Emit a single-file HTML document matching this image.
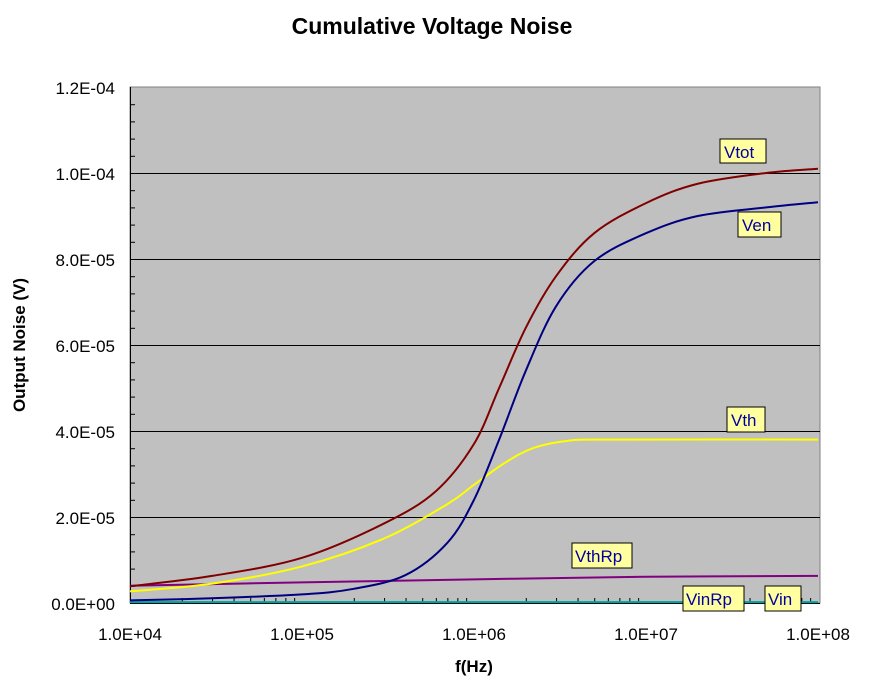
<!DOCTYPE html>
<html><head><style>
body{margin:0;background:#fff}
svg{display:block;font-family:"Liberation Sans",Arial,sans-serif}
</style></head><body>
<svg id="s" width="871" height="683" xmlns="http://www.w3.org/2000/svg">
<text x="432" y="34" text-anchor="middle" font-size="23" font-weight="bold">Cumulative Voltage Noise</text>
<rect x="130" y="87" width="690" height="516" fill="#c0c0c0" stroke="#808080" stroke-width="1"/>
<g stroke="#000" stroke-width="1">
<line x1="130" y1="173.5" x2="820" y2="173.5"/>
<line x1="130" y1="259.5" x2="820" y2="259.5"/>
<line x1="130" y1="345.5" x2="820" y2="345.5"/>
<line x1="130" y1="431.5" x2="820" y2="431.5"/>
<line x1="130" y1="517.5" x2="820" y2="517.5"/>
<line x1="130.5" y1="87" x2="130.5" y2="603"/>
<line x1="130" y1="603.5" x2="820" y2="603.5"/>
</g>
<g id="ticks" stroke="#000" stroke-width="1"></g>
<g font-size="17" text-anchor="end">
<text x="115" y="94">1.2E-04</text>
<text x="115" y="180">1.0E-04</text>
<text x="115" y="266">8.0E-05</text>
<text x="115" y="352">6.0E-05</text>
<text x="115" y="438">4.0E-05</text>
<text x="115" y="524">2.0E-05</text>
<text x="115" y="610">0.0E+00</text>
</g>
<g font-size="17" text-anchor="middle">
<text x="130" y="640">1.0E+04</text>
<text x="302" y="640">1.0E+05</text>
<text x="474" y="640">1.0E+06</text>
<text x="646" y="640">1.0E+07</text>
<text x="818" y="640">1.0E+08</text>
</g>
<text x="474" y="672" text-anchor="middle" font-size="17" font-weight="bold">f(Hz)</text>
<text transform="translate(25,345) rotate(-90)" text-anchor="middle" font-size="17" font-weight="bold">Output Noise (V)</text>
<g id="curves" fill="none" stroke-width="2"></g>
<g font-size="17" fill="#0000a0">
<rect x="720" y="139" width="46" height="24" fill="#ffffa0" stroke="#000"/><text x="724" y="158">Vtot</text>
<rect x="738" y="212" width="43" height="25" fill="#ffffa0" stroke="#000"/><text x="742" y="231">Ven</text>
<rect x="727" y="407" width="38" height="25" fill="#ffffa0" stroke="#000"/><text x="731" y="426">Vth</text>
<rect x="572" y="543" width="60" height="25" fill="#ffffa0" stroke="#000"/><text x="575" y="562">VthRp</text>
<rect x="683" y="586" width="61" height="25" fill="#ffffa0" stroke="#000"/><text x="686" y="605">VinRp</text>
<rect x="765" y="586" width="36" height="25" fill="#ffffa0" stroke="#000"/><text x="768" y="605">Vin</text>
</g>
</svg>
<script>
function X(f){return 130+(Math.log10(f)-4)*172;}
function Y(v){return 603-v*4.3e6;}
var t=document.getElementById('ticks'),h='';
for(var i=1;i<30;i++){if(i%5)h+='<line x1="130" x2="135" y1="'+(603-i*17.2+.5)+'" y2="'+(603-i*17.2+.5)+'"/>';}
for(var d=4;d<8;d++)for(var k=2;k<10;k++){var x=X(k*Math.pow(10,d))+.5;h+='<line x1="'+x+'" x2="'+x+'" y1="603" y2="598"/>';}
t.innerHTML=h;
function path(pts,col){
 var p=pts.map(function(q){return [X(q[0]),Y(q[1])];});
 var d='M'+p[0][0]+','+p[0][1];
 for(var i=0;i<p.length-1;i++){
  var p0=p[i-1]||p[i],p1=p[i],p2=p[i+1],p3=p[i+2]||p2;
  d+=' C'+(p1[0]+(p2[0]-p0[0])/6)+','+(p1[1]+(p2[1]-p0[1])/6)+' '+(p2[0]-(p3[0]-p1[0])/6)+','+(p2[1]-(p3[1]-p1[1])/6)+' '+p2[0]+','+p2[1];
 }
 return '<path d="'+d+'" stroke="'+col+'"/>';
}
var c='';
c+=path([[1e4,.2e-6],[1e8,.2e-6]],'#00a0a0');
c+=path([[1e4,4e-6],[1e5,4.8e-6],[1e6,5.5e-6],[1e7,6.1e-6],[1e8,6.3e-6]],'#800080');
c+=path([[1e4,2.7e-6],[3e4,4.5e-6],[1e5,8.5e-6],[3e5,1.5e-5],[7e5,2.3e-5],[1e6,2.75e-5],[1.5e6,3.25e-5],[2.2e6,3.6e-5],[3.5e6,3.77e-5],[6e6,3.8e-5],[1e8,3.8e-5]],'#ffff00');
c+=path([[1e4,.6e-6],[3e4,1.1e-6],[1e5,2e-6],[2e5,3.3e-6],[4e5,6.5e-6],[7e5,1.4e-5],[1e6,2.4e-5],[1.4e6,3.8e-5],[2e6,5.4e-5],[3e6,6.9e-5],[5e6,7.95e-5],[1e7,8.6e-5],[2e7,9e-5],[5e7,9.2e-5],[1e8,9.32e-5]],'#000080');
c+=path([[1e4,3.9e-6],[3e4,6.3e-6],[1e5,1.05e-5],[3e5,1.85e-5],[6e5,2.6e-5],[1e6,3.7e-5],[1.4e6,5e-5],[2e6,6.4e-5],[3e6,7.6e-5],[5e6,8.6e-5],[1e7,9.3e-5],[2e7,9.75e-5],[5e7,1.0e-4],[1e8,1.01e-4]],'#800000');
document.getElementById('curves').innerHTML=c;
</script>
</body></html>
